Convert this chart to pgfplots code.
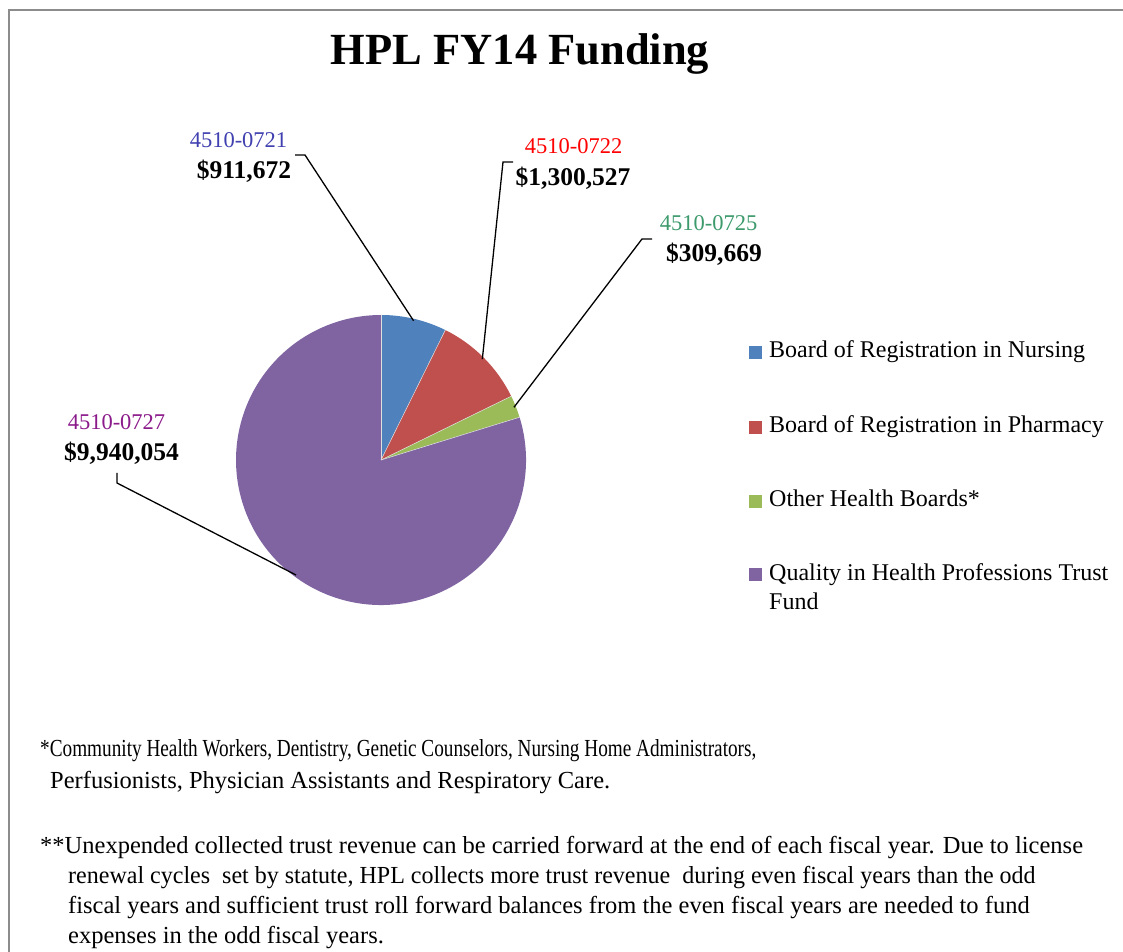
\documentclass[border=0pt]{standalone}
\usepackage{fontspec}
\setmainfont{Liberation Serif}
\usepackage{pgfplots}
\usepackage{pgfplotstable}
\pgfplotsset{compat=1.18}

\definecolor{PieBlue}{HTML}{4F81BD}
\definecolor{PieRed}{HTML}{C0504D}
\definecolor{PieGreen}{HTML}{9BBB59}
\definecolor{PiePurple}{HTML}{8064A2}
\definecolor{CodeBlue}{HTML}{4040B0}
\definecolor{CodeRed}{HTML}{FF0000}
\definecolor{CodeGreen}{HTML}{3C9A6C}
\definecolor{CodePurple}{HTML}{8B1A8B}
\definecolor{FrameGray}{HTML}{8C8C8C}

\newcommand\lbl{\fontsize{22.5}{27}\selectfont}
\newcommand\amt{\fontsize{25.5}{30}\selectfont\bfseries}
\newcommand\leg{\fontsize{24}{29}\selectfont}
\newcommand\note{\fontsize{24.5}{29}\selectfont}

% FY14 funding by account
\pgfplotstableread{
slice amount
0 911672
1 1300527
2 309669
3 9940054
}\funding

\pgfplotstablegetelem{0}{amount}\of\funding\edef\vA{\pgfplotsretval}
\pgfplotstablegetelem{1}{amount}\of\funding\edef\vB{\pgfplotsretval}
\pgfplotstablegetelem{2}{amount}\of\funding\edef\vC{\pgfplotsretval}
\pgfplotstablegetelem{3}{amount}\of\funding\edef\vD{\pgfplotsretval}
\edef\tot{\fpeval{\vA+\vB+\vC+\vD}}
% slice boundaries, clockwise from 12 o'clock
\edef\aA{\fpeval{90-360*\vA/\tot}}
\edef\aB{\fpeval{\aA-360*\vB/\tot}}
\edef\aC{\fpeval{\aB-360*\vC/\tot}}
\edef\mA{\fpeval{(90+\aA)/2}}
\edef\mB{\fpeval{(\aA+\aB)/2}}
\edef\mC{\fpeval{(\aB+\aC)/2}}
\edef\mD{\fpeval{(\aC-270)/2}}

\begin{document}
\begin{tikzpicture}
\begin{axis}[
  x=1pt, y=1pt,
  xmin=0, xmax=1123, ymin=0, ymax=951,
  hide axis, clip=false,
]
\coordinate (bl) at (axis cs:0,0);
\coordinate (tr) at (axis cs:1123,951);
\fill[white] (axis cs:0,0) rectangle (axis cs:1123,951);
\draw[FrameGray, line width=2.5pt] (axis cs:9,-10) -- (axis cs:9,941) -- (axis cs:1140,941);

\node[anchor=base, font=\fontsize{44.5}{54}\selectfont\bfseries] at (axis cs:520,886) {HPL FY14 Funding};

% pie slices
\fill[PieBlue]   (axis cs:381,491) -- ++(90:145pt)  arc[start angle=90,  end angle=\aA,  radius=145pt] -- cycle;
\fill[PieRed]    (axis cs:381,491) -- ++(\aA:145pt) arc[start angle=\aA, end angle=\aB,  radius=145pt] -- cycle;
\fill[PieGreen]  (axis cs:381,491) -- ++(\aB:145pt) arc[start angle=\aB, end angle=\aC,  radius=145pt] -- cycle;
\fill[PiePurple] (axis cs:381,491) -- ++(\aC:145pt) arc[start angle=\aC, end angle=-270, radius=145pt] -- cycle;
\draw[white!75!gray, line width=0.5pt] (axis cs:381,491) -- ++(90:145pt);
\draw[white!75!gray, line width=0.5pt] (axis cs:381,491) -- ++(\aA:145pt);
\draw[white!75!gray, line width=0.5pt] (axis cs:381,491) -- ++(\aB:145pt);
\draw[white!75!gray, line width=0.5pt] (axis cs:381,491) -- ++(\aC:145pt);

% leader lines
\draw[line width=1.3pt] (axis cs:381,491) ++(\mA:143pt) -- (axis cs:305,796) -- (axis cs:295,796);
\draw[line width=1.3pt] (axis cs:381,491) ++(\mB:143pt) -- (axis cs:503,789) -- (axis cs:513,789);
\draw[line width=1.3pt] (axis cs:381,491) ++(\mC:143pt) -- (axis cs:642,712) -- (axis cs:652,712);
\draw[line width=1.3pt] (axis cs:381,491) ++(\mD:143pt) -- (axis cs:117,468) -- (axis cs:117,478);

% data labels
\node[anchor=base, font=\lbl, text=CodeBlue] at (axis cs:238.5,803) {4510-0721};
\node[anchor=base, font=\amt] at (axis cs:244,772) {\$911,672};
\node[anchor=base, font=\lbl, text=CodeRed] at (axis cs:573.5,797) {4510-0722};
\node[anchor=base, font=\amt] at (axis cs:573,765) {\$1,300,527};
\node[anchor=base, font=\lbl, text=CodeGreen] at (axis cs:708.5,720) {4510-0725};
\node[anchor=base, font=\amt] at (axis cs:714,689) {\$309,669};
\node[anchor=base, font=\lbl, text=CodePurple] at (axis cs:116.5,521) {4510-0727};
\node[anchor=base, font=\amt] at (axis cs:121.5,490) {\$9,940,054};

% legend
\fill[PieBlue]   (axis cs:749,592) rectangle (axis cs:762,605);
\fill[PieRed]    (axis cs:749,517) rectangle (axis cs:762,530);
\fill[PieGreen]  (axis cs:749,443) rectangle (axis cs:762,456);
\fill[PiePurple] (axis cs:749,370) rectangle (axis cs:762,383);
\node[anchor=base west, inner sep=0pt, font=\leg] at (axis cs:769,593) {Board of Registration in Nursing};
\node[anchor=base west, inner sep=0pt, font=\leg] at (axis cs:769,518) {Board of Registration in Pharmacy};
\node[anchor=base west, inner sep=0pt, font=\leg] at (axis cs:769,444) {Other Health Boards*};
\node[anchor=base west, inner sep=0pt, font=\leg] at (axis cs:769,371) {Quality in Health Professions Trust};
\node[anchor=base west, inner sep=0pt, font=\leg] at (axis cs:769,342) {Fund};

% footnotes
\node[anchor=base west, inner sep=0pt, font=\note] at (axis cs:40,195) {\scalebox{0.785}[1]{*Community Health Workers, Dentistry, Genetic Counselors, Nursing Home Administrators,}};
\node[anchor=base west, inner sep=0pt, font=\note] at (axis cs:50,163) {Perfusionists, Physician Assistants and Respiratory Care.};
\node[anchor=base west, inner sep=0pt, font=\note] at (axis cs:40,98) {**Unexpended collected trust revenue can be carried forward at the end of each fiscal year. Due to license};
\node[anchor=base west, inner sep=0pt, font=\note] at (axis cs:68,68) {\scalebox{0.98}[1]{renewal cycles\ \ set by statute, HPL collects more trust revenue\ \ during even fiscal years than the odd}};
\node[anchor=base west, inner sep=0pt, font=\note] at (axis cs:68,38) {fiscal years and sufficient trust roll forward balances from the even fiscal years are needed to fund};
\node[anchor=base west, inner sep=0pt, font=\note] at (axis cs:68,8) {expenses in the odd fiscal years.};
\end{axis}
\pgfresetboundingbox
\useasboundingbox (bl) rectangle (tr);
\end{tikzpicture}
\end{document}
